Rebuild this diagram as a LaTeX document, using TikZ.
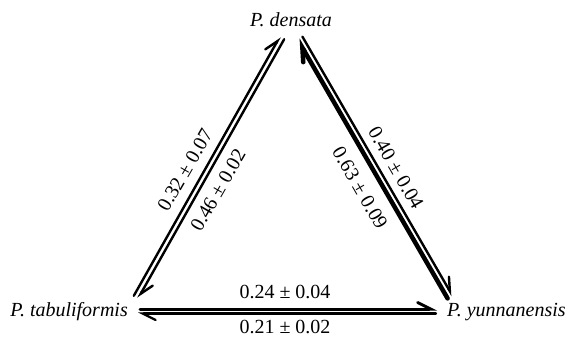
\documentclass[tikz,border=0pt]{standalone}
\usepackage{fontspec}
\setmainfont{Liberation Serif}
\usetikzlibrary{arrows.meta}
\begin{document}
\begin{tikzpicture}[x=1pt,y=-1pt,
  lbl/.style={font=\fontsize{20}{24}\selectfont\itshape, inner sep=0pt},
  num/.style={font=\fontsize{20}{24}\selectfont, inner sep=0pt},
  harp/.style={line cap=round, -{Straight Barb[harpoon,length=13pt,width=13pt,line cap=round]}},
  thinl/.style={line width=2.4pt},
  thickl/.style={line width=4.5pt}]
\useasboundingbox (0,0) rectangle (568,338);
\node[lbl] (D) at (291,20) {P. densata};
\node[lbl,anchor=east] (T) at (128,312) {P. tabuliformis};
\node[lbl,anchor=west] (Y) at (447,312) {P. yunnanensis};
% left pair
\coordinate (LOt) at (279.8,36.8);
\coordinate (LOb) at (133.8,295.8);
\coordinate (LIt) at (284.2,39.2);
\coordinate (LIb) at (138.2,298.2);
% right pair
\coordinate (RIt) at (297.6,39.4);
\coordinate (RIb) at (447.6,298.4);
\coordinate (ROt) at (302.4,36.6);
\coordinate (ROb) at (452.4,295.6);
% bottom pair
\coordinate (BTl) at (140,309);
\coordinate (BTr) at (437,309);
\coordinate (BBl) at (138,313.5);
\coordinate (BBr) at (436,313.5);
\draw[thinl,harp] (LOb) -- (LOt);
\draw[thinl,harp] (LIt) -- (LIb);
\draw[thickl,harp] (RIb) -- (RIt);
\draw[thinl,harp] (ROt) -- (ROb);
\draw[line width=3pt,harp] (BTl) -- (BTr);
\draw[line width=2.2pt,harp] (BBr) -- (BBl);
\node[num,rotate=60] (a) at (185,170) {0.32 ± 0.07};
\node[num,rotate=60] (b) at (218,190) {0.46 ± 0.02};
\node[num,rotate=-60] (c) at (396,168) {0.40 ± 0.04};
\node[num,rotate=-60] (e) at (360,188) {0.63 ± 0.09};
\node[num] (f) at (285,292) {0.24 ± 0.04};
\node[num] (g) at (285,327) {0.21 ± 0.02};
\end{tikzpicture}
\end{document}
